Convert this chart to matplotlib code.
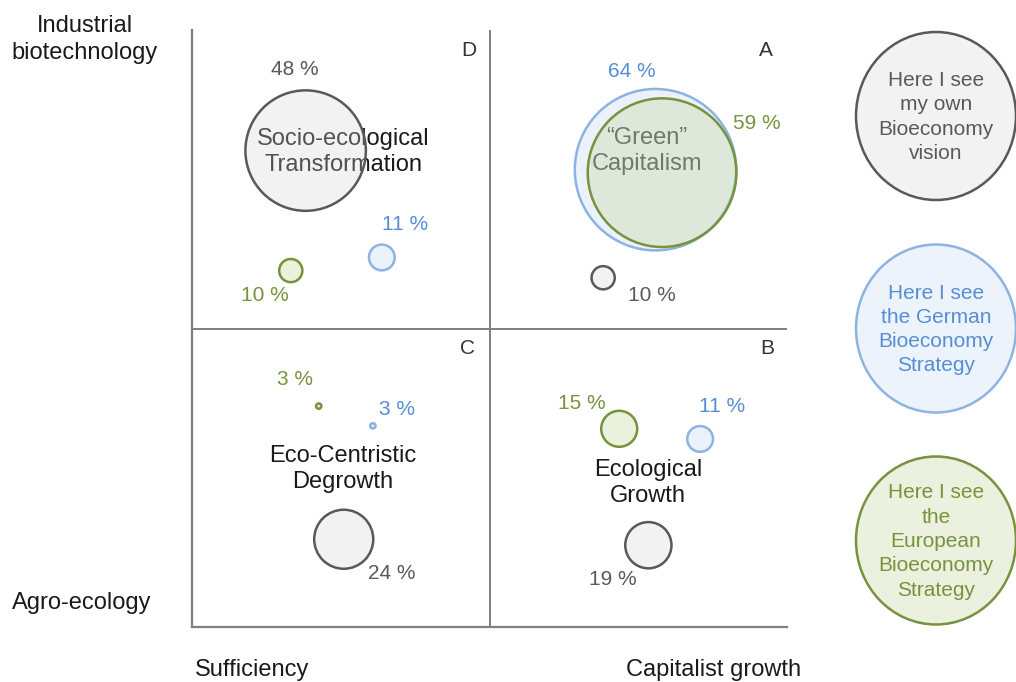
import matplotlib.pyplot as plt
from matplotlib.patches import Ellipse
import numpy as np

plt.rcParams['font.family'] = ['Liberation Sans', 'DejaVu Sans']

# quadrants in order D (top left), A (top right), C (bottom left), B (bottom right)
QUADRANTS = ['D', 'A', 'C', 'B']
QUADRANT_NAMES = ['Socio-ecological\nTransformation', '\u201cGreen\u201d\nCapitalism',
                  'Eco-Centristic\nDegrowth', 'Ecological\nGrowth']

# share of answers per quadrant (%)
own_vision = [48, 10, 24, 19]
german_strategy = [11, 64, 3, 11]
european_strategy = [10, 59, 3, 15]

# bubble placement on the 0..100 sufficiency/capitalist x agro/industrial plane
own_x = [19.1, 69.1, 25.5, 76.7]
own_y = [79.8, 58.5, 14.7, 13.7]
german_x = [31.9, 77.9, 30.4, 85.4]
german_y = [61.9, 76.6, 33.7, 31.5]
european_x = [16.6, 79.0, 21.3, 71.8]
european_y = [59.7, 76.1, 37.0, 33.2]

LEGEND_TEXT = ['Here I see\nmy own\nBioeconomy\nvision',
               'Here I see\nthe German\nBioeconomy\nStrategy',
               'Here I see\nthe\nEuropean\nBioeconomy\nStrategy']

GRAY = '#595959'
BLUE = '#8db3e2'
GREEN = '#77933c'
TEXT_DARK = '#1a1a1a'

# label offsets from the bubble centre (data units)
own_off = [(-1.8, 13.5), (8.2, -2.9), (8.1, -5.8), (-5.9, -5.7)]
german_off = [(3.9, 5.6), (-4.0, 16.4), (4.1, 2.8), (3.7, 5.5)]
european_off = [(-4.3, -4.1), (16.0, 8.2), (-4.0, 4.4), (-6.3, 4.3)]

SERIES = [
    (own_vision, own_x, own_y, own_off, GRAY, (212/255, 212/255, 212/255, 0.3), GRAY),
    (german_strategy, german_x, german_y, german_off, BLUE, (195/255, 215/255, 242/255, 0.3), '#558ed5'),
    (european_strategy, european_x, european_y, european_off, GREEN, (188/255, 209/255, 145/255, 0.3), GREEN),
]

FS = 15
FS_BIG = 17


def bubble_size(pct):
    # radius in pixels grows linearly with the percentage
    r_px = 1.28 * np.asarray(pct) - 1.2
    r_pt = r_px * 72 / 100
    return (2 * r_pt) ** 2


fig = plt.figure(figsize=(10.16, 6.82), dpi=100)

# full-figure overlay in pixel units for outer labels and the legend circles
bg = fig.add_axes([0, 0, 1, 1], zorder=0)
bg.set_xlim(0, 1016)
bg.set_ylim(682, 0)
bg.axis('off')

ax = fig.add_axes([192 / 1016, 55 / 682, 595 / 1016, 597 / 682], zorder=1)
ax.set_xlim(0, 100)
ax.set_ylim(0, 100)
ax.patch.set_alpha(0)
for side in ['top', 'right']:
    ax.spines[side].set_visible(False)
for side in ['left', 'bottom']:
    ax.spines[side].set_color('#7f7f7f')
    ax.spines[side].set_linewidth(1.6)
ax.set_xticks([])
ax.set_yticks([])
ax.axvline(50, color='#7f7f7f', lw=1.4, zorder=1)
ax.axhline(50, color='#7f7f7f', lw=1.4, zorder=1)

letter_pos = [(46.6, 96.6), (96.5, 96.5), (46.3, 46.6), (96.6, 46.6)]
name_pos = [(25.4, 79.6), (76.5, 79.8), (25.4, 26.4), (76.6, 24.1)]
for q, name, (lx, ly), (nx, ny) in zip(QUADRANTS, QUADRANT_NAMES, letter_pos, name_pos):
    ax.text(lx, ly, q, ha='center', va='center', fontsize=FS, color='#333333', zorder=1)
    ax.text(nx, ny, name, ha='center', va='center', fontsize=FS_BIG, color=TEXT_DARK,
            linespacing=1.24, zorder=1)

for i, (vals, xs, ys, offs, edge, face, tcol) in enumerate(SERIES):
    ax.scatter(xs, ys, s=bubble_size(vals), facecolors=[face], edgecolors=edge,
               linewidths=1.8, zorder=2 + i)
    for v, x, y, (dx, dy) in zip(vals, xs, ys, offs):
        ax.text(x + dx, y + dy, f'{v} %', ha='center', va='center', fontsize=FS,
                color=tcol, zorder=6)

# axis end labels
bg.text(85, 39.5, 'Industrial\nbiotechnology', ha='center', va='center', fontsize=FS_BIG,
        color=TEXT_DARK, linespacing=1.24)
bg.text(82, 603, 'Agro-ecology', ha='center', va='center', fontsize=FS_BIG, color=TEXT_DARK)
bg.text(252, 670, 'Sufficiency', ha='center', va='center', fontsize=FS_BIG, color=TEXT_DARK)
bg.text(714, 670, 'Capitalist growth', ha='center', va='center', fontsize=FS_BIG, color=TEXT_DARK)

# legend circles
legend_faces = ['#f2f2f2', '#edf3fb', '#ebf1de']
legend_y = [116, 328.5, 540.5]
for (vals, xs, ys, offs, edge, face, tcol), fc, cy, txt in zip(SERIES, legend_faces, legend_y, LEGEND_TEXT):
    bg.add_patch(Ellipse((936, cy), 160, 168, facecolor=fc, edgecolor=edge, lw=1.8))
    bg.text(936, cy + 1, txt, ha='center', va='center', fontsize=FS, color=tcol,
            linespacing=1.35)

fig.savefig('out.png', dpi=100)
